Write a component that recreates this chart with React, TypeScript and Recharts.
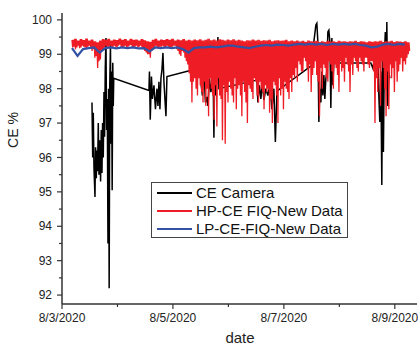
import { LineChart, Line, XAxis, YAxis, Legend } from "recharts";

// x = days after 8/3/2020
const xTicks = [0, 1, 2, 3, 4, 5, 6];
const xTickLabels = ["8/3/2020", "", "8/5/2020", "", "8/7/2020", "", "8/9/2020"];
const yTicks = [92, 92.5, 93, 93.5, 94, 94.5, 95, 95.5, 96, 96.5, 97, 97.5, 98, 98.5, 99, 99.5, 100];

// CE Camera (black)
const cameraDay = [
  0.5405, 0.5532, 0.564, 0.5766, 0.5946, 0.6054, 0.618, 0.6306, 0.6414, 0.6541,
  0.6667, 0.6847, 0.6955, 0.7081, 0.7207, 0.7315, 0.7441, 0.7568, 0.7676, 0.7802,
  0.7928, 0.8036, 0.8162, 0.8288, 0.8396, 0.8505, 0.8613, 0.8739, 0.8829, 0.8937,
  0.9045, 0.9153, 0.9243, 0.9333,
  1.5676, 1.5766, 1.591, 1.6126, 1.6306, 1.6577, 1.6847, 1.7117, 1.7297, 1.7477,
  1.7658, 1.7838, 1.8018, 1.8198, 1.8378, 1.8559, 1.8739, 1.8919,
  2.4865, 2.5045, 2.5315, 2.5586, 2.5856, 2.6126, 2.6306, 2.6577, 2.6847, 2.7027,
  2.7207, 2.7387, 2.7568, 2.7748, 2.7928, 2.8108, 2.8288,
  3.5135, 3.5315, 3.5586, 3.5856, 3.6126, 3.6396, 3.6757, 3.7117, 3.7477, 3.7838,
  3.8198, 3.8468, 3.8739, 3.8919,
  4.5225, 4.5405, 4.5766, 4.5946, 4.6126, 4.6306, 4.6486, 4.6667, 4.6847, 4.7027,
  4.7207, 4.7387, 4.7568, 4.7748, 4.7928, 4.8108, 4.8288, 4.8468, 4.8649, 4.8829,
  4.9009,
  5.5676, 5.6036, 5.6396, 5.6757, 5.6937, 5.7117, 5.7297, 5.7477, 5.7658, 5.7802,
  5.7946, 5.8108, 5.8288, 5.8468, 5.8559, 5.8739, 5.8919, 5.9099,
];
const cameraCE = [
  97.6, 96.0, 97.3, 95.7, 94.85, 96.3, 95.4, 96.2, 95.6, 97.0,
  95.5, 96.5, 95.3, 96.8, 95.55, 97.0, 96.0, 97.9, 96.6, 98.6,
  99.47, 96.8, 97.7, 93.5, 98.0, 92.2, 98.15, 99.3, 96.4, 98.5,
  95.05, 98.75, 97.5, 98.3,
  97.95, 98.5, 97.1, 98.35, 97.7, 98.1, 97.4, 98.0, 97.5, 98.2,
  97.4, 98.3, 98.55, 99.04, 98.2, 97.7, 97.2, 98.35,
  98.6, 98.17, 97.8, 98.6, 97.6, 97.76, 97.5, 98.3, 97.9, 98.2,
  98.84, 96.57, 98.98, 97.8, 98.46, 99.5, 98.0,
  98.25, 97.6, 98.1, 97.7, 98.2, 97.67, 98.0, 97.8, 98.1, 97.4,
  98.0, 96.45, 97.9, 97.95,
  98.7, 99.36, 99.85, 99.9, 99.36, 97.03, 98.0, 97.6, 98.5, 97.8,
  98.4, 97.7, 98.3, 98.5, 99.65, 99.7, 99.36, 97.44, 99.47, 98.1,
  98.75,
  98.75, 98.6, 98.9, 98.4, 99.07, 97.8, 97.03, 98.5, 95.2, 99.36,
  96.16, 98.9, 99.65, 98.0, 99.94, 97.5, 98.5, 98.3,
];

// HP-CE FIQ (red): per step a top, a deep spike, a top again and a shallow spike
const hpStart = 0.18;
const hpStep = 0.05;
const hpHigh = [
  99.42, 99.45, 99.4, 99.44, 99.41, 99.46, 99.4, 99.43, 99.38, 99.35,
  99.4, 99.44, 99.42, 99.45, 99.4, 99.43, 99.41, 99.46, 99.42, 99.44,
  99.4, 99.45, 99.42, 99.43, 99.4, 99.44, 99.41, 99.38, 99.36, 99.42,
  99.45, 99.4, 99.43, 99.41, 99.44, 99.42, 99.45, 99.4, 99.43, 99.41,
  99.44, 99.4, 99.42, 99.4, 99.43, 99.41, 99.44, 99.4, 99.42, 99.45,
  99.41, 99.43, 99.4, 99.44, 99.42, 99.4, 99.43, 99.41, 99.44, 99.4,
  99.42, 99.4, 99.38, 99.41, 99.4, 99.43, 99.4, 99.42, 99.39, 99.41,
  99.4, 99.42, 99.38, 99.4, 99.41, 99.39, 99.4, 99.42, 99.38, 99.4,
  99.38, 99.4, 99.37, 99.39, 99.36, 99.4, 99.38, 99.37, 99.39, 99.36,
  99.38, 99.36, 99.39, 99.37, 99.38, 99.36, 99.39, 99.37, 99.38, 99.36,
  99.38, 99.37, 99.39, 99.36, 99.38, 99.37, 99.35, 99.38, 99.36, 99.38,
  99.37, 99.39, 99.36, 99.38, 99.37, 99.39, 99.36, 99.38, 99.37, 99.36,
  99.38, 99.35,
];
const hpLow = [
  99.2, 99.15, 99.25, 99.2, 99.22, 99.18, 99.25, 99.1, 98.9, 98.6,
  98.85, 99.15, 99.25, 99.2, 99.22, 99.25, 99.2, 99.28, 99.2, 99.25,
  99.22, 99.27, 99.2, 99.25, 99.22, 99.2, 99.1, 99.0, 98.9, 99.15,
  99.25, 99.2, 99.22, 99.18, 99.25, 99.2, 99.22, 99.25, 99.1, 98.95,
  99.05, 98.8, 98.45, 97.6, 98.3, 97.8, 98.1, 97.6, 97.5, 97.2,
  98.0, 97.1, 96.9, 97.8, 96.5, 96.4, 97.6, 98.0, 97.6, 97.4,
  98.1, 97.2, 97.9, 97.0, 98.0, 97.7, 98.2, 97.6, 98.0, 97.4,
  97.9, 97.3, 97.0, 98.1, 97.0, 97.8, 97.4, 98.0, 97.7, 97.9,
  98.3, 98.2, 98.7, 98.5, 98.8, 98.2, 97.9, 98.6, 98.4, 97.2,
  98.0, 98.6, 98.2, 98.7, 98.0, 98.6, 97.9, 98.5, 98.2, 98.7,
  97.9, 98.4, 98.8, 98.5, 98.8, 98.5, 98.9, 98.6, 98.8, 97.0,
  97.9, 97.5, 98.6, 97.2, 97.4, 98.3, 97.9, 98.2, 98.7, 98.5,
  98.7, 99.0,
];
const hpFloor = [
  99.22, 99.2, 99.18, 99.25, 99.2, 99.22, 99.2, 99.15, 98.95, 98.8,
  99.1, 99.2, 99.22, 99.25, 99.2, 99.22, 99.25, 99.2, 99.22, 99.2,
  99.25, 99.2, 99.22, 99.2, 99.25, 99.15, 99.05, 99.0, 99.1, 99.2,
  99.2, 99.22, 99.25, 99.2, 99.22, 99.2, 99.25, 99.15, 99.0, 99.1,
  98.9, 98.7, 98.2, 98.2, 98.0, 98.3, 97.9, 98.2, 98.0, 98.3,
  97.8, 98.1, 98.3, 97.7, 98.1, 97.9, 98.2, 97.8, 98.3, 98.0,
  97.8, 98.2, 97.6, 98.1, 97.9, 98.3, 97.8, 98.2, 97.9, 98.1,
  98.0, 97.7, 98.2, 97.8, 98.3, 98.0, 98.2, 97.9, 98.3, 98.4,
  98.6, 98.8, 98.5, 98.9, 98.6, 98.7, 98.4, 98.8, 98.2, 98.6,
  98.7, 98.3, 98.8, 98.5, 98.7, 98.4, 98.8, 98.6, 98.9, 98.5,
  98.7, 98.9, 98.6, 98.9, 98.7, 98.9, 98.7, 98.8, 98.5, 98.3,
  98.6, 98.8, 98.0, 98.5, 98.7, 98.6, 98.8, 98.5, 98.9, 98.8,
  98.9, 99.1,
];

// LP-CE-FIQ (blue)
const lpStart = 0.18;
const lpStep = 0.1;
const lpCE = [
  99.18, 98.95, 99.15, 99.18, 99.2, 99.05, 99.18, 99.2, 99.17, 99.2,
  99.18, 99.2, 99.17, 99.18, 99.08, 99.2, 99.18, 99.2, 99.18, 99.2,
  99.15, 99.05, 99.18, 99.2, 99.2, 99.22, 99.2, 99.22, 99.25, 99.25,
  99.22, 99.2, 99.18, 99.22, 99.25, 99.27, 99.25, 99.28, 99.27, 99.25,
  99.28, 99.3, 99.28, 99.3, 99.28, 99.3, 99.27, 99.3, 99.28, 99.3,
  99.28, 99.3, 99.27, 99.25, 99.2, 99.22, 99.28, 99.3, 99.27, 99.3,
  99.28,
];

const cameraData = cameraDay.map((t, i) => ({ t, v: cameraCE[i] }));
const hpData = hpLow.flatMap((low, i) => {
  const t = hpStart + i * hpStep;
  return [
    { t, v: hpHigh[i] },
    { t: t + hpStep / 4, v: low },
    { t: t + hpStep / 2, v: hpHigh[i] },
    { t: t + (3 * hpStep) / 4, v: hpFloor[i] },
  ];
});
const lpData = lpCE.map((v, i) => ({ t: lpStart + i * lpStep, v }));

const FONT = "'Liberation Sans', Arial, sans-serif";
const AXIS = "#333";

function DateTick({ x, y, payload }: any) {
  const major = payload.value % 2 === 0;
  return (
    <g>
      <line x1={x} x2={x} y1={y} y2={y + (major ? 5 : 3)} stroke={AXIS} strokeWidth={1.2} />
      {major ? (
        <text x={x} y={y + 18} textAnchor="middle" fontSize={12} fontFamily={FONT} fill="#222">
          {xTickLabels[payload.value]}
        </text>
      ) : null}
    </g>
  );
}

function CETick({ x, y, payload }: any) {
  const major = Number.isInteger(payload.value);
  return (
    <g>
      <line x1={x - (major ? 5 : 3)} x2={x} y1={y} y2={y} stroke={AXIS} strokeWidth={1.2} />
      {major ? (
        <text x={x - 10} y={y} dy="0.35em" textAnchor="end" fontSize={12} fontFamily={FONT} fill="#222">
          {payload.value}
        </text>
      ) : null}
    </g>
  );
}

function LegendBox({ payload }: any) {
  return (
    <div
      style={{
        border: "1px solid #444",
        background: "#fff",
        width: 195,
        height: 53,
        paddingTop: 1,
        boxSizing: "content-box",
        fontFamily: FONT,
        fontSize: 15,
        color: "#111",
      }}
    >
      {(payload || []).map((p: any) => (
        <div key={p.value} style={{ display: "flex", alignItems: "center", height: 18 }}>
          <span style={{ display: "inline-block", width: 35, height: 1.5, background: p.color, marginLeft: 5, marginRight: 4 }} />
          <span style={{ lineHeight: "18px", whiteSpace: "nowrap" }}>{p.value}</span>
        </div>
      ))}
    </div>
  );
}

export default function App() {
  return (
    <div style={{ position: "absolute", left: 0, top: 0, width: 418, height: 345, background: "#fff" }}>
      <LineChart width={418} height={345} margin={{ top: 13, right: 1, left: 0, bottom: 0 }}>
        <XAxis
          type="number"
          dataKey="t"
          domain={[0, 6.4]}
          allowDataOverflow
          ticks={xTicks}
          interval={0}
          tickSize={0}
          tickMargin={0}
          tickLine={false}
          tick={<DateTick />}
          height={41}
          axisLine={{ stroke: AXIS, strokeWidth: 1.5 }}
          label={{
            content: () => (
              <text x={240} y={343} textAnchor="middle" fontSize={15} fontFamily={FONT} fill="#222">
                date
              </text>
            ),
          }}
        />
        <YAxis
          type="number"
          domain={[91.74, 100.2]}
          allowDataOverflow
          ticks={yTicks}
          interval={0}
          tickSize={0}
          tickMargin={0}
          tickLine={false}
          tick={<CETick />}
          width={62}
          axisLine={{ stroke: AXIS, strokeWidth: 1.5 }}
          label={{
            content: () => (
              <text x={18} y={130} transform="rotate(-90 18 130)" textAnchor="middle" fontSize={14} fontFamily={FONT} fill="#222">
                CE %
              </text>
            ),
          }}
        />
        <Legend
          layout="horizontal"
          verticalAlign="middle"
          align="center"
          content={<LegendBox />}
          wrapperStyle={{ position: "absolute", left: 151, top: 182, width: 197 }}
        />
        <Line data={cameraData} dataKey="v" name="CE Camera" stroke="#000" strokeWidth={1.5} dot={false} isAnimationActive={false} />
        <Line data={hpData} dataKey="v" name="HP-CE FIQ-New Data" stroke="#ee1c24" strokeWidth={1.3} dot={false} isAnimationActive={false} />
        <Line data={lpData} dataKey="v" name="LP-CE-FIQ-New Data" stroke="#3452a4" strokeWidth={2.2} dot={false} isAnimationActive={false} />
      </LineChart>
    </div>
  );
}
